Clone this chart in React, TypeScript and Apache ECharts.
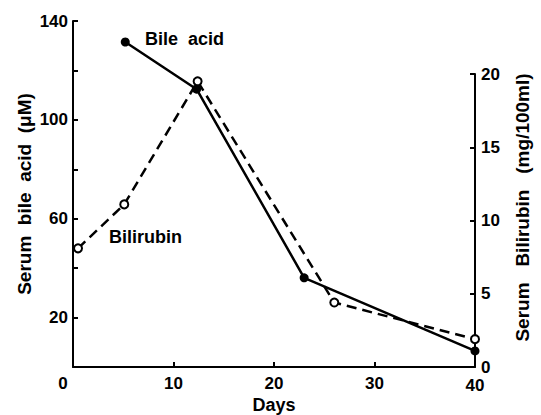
import React, { useEffect, useRef } from "react";
import * as echarts from "echarts";

const bileDays = [5.2, 12.3, 23, 40];
const bileValues = [131.5, 112.4, 36.1, 6.5];
const biliDays = [0.5, 5.1, 12.4, 26, 40];
const biliValues = [8.1, 11.1, 19.5, 4.4, 1.9];

const dayTicks = [0, 10, 20, 30, 40];
const bileAxisLabels = [20, 60, 100, 140];
const biliAxisLabels = [0, 5, 10, 15, 20];

const FONT = "Liberation Sans";

const mkLine = () => ({ show: true, onZero: false, lineStyle: { color: "#000", width: 2, type: "solid" as const } });
const mkTick = () => ({ show: true, inside: true, length: 5, lineStyle: { color: "#000", width: 2 } });

export default function App() {
  const ref = useRef<HTMLDivElement>(null);
  useEffect(() => {
    if (!ref.current) return;
    const chart = echarts.init(ref.current, undefined, { renderer: "svg" });
    const txt = () => ({ color: "#000", fontFamily: FONT, fontSize: 17, fontWeight: "bold" as const });
    chart.setOption({
      animation: false,
      backgroundColor: "#fff",
      grid: [
        { left: 73, right: 66, top: 21, bottom: 48, outerBoundsMode: "none", containLabel: false },
        { left: 73, right: 66, top: 74, bottom: 48, outerBoundsMode: "none", containLabel: false },
      ],
      xAxis: [
        {
          type: "value",
          gridIndex: 0,
          min: 0,
          max: 40,
          interval: 10,
          axisLine: mkLine(),
          axisTick: { ...mkTick(), customValues: dayTicks.slice(1, 4) },
          splitLine: { show: false },
          axisLabel: {
            ...txt(),
            margin: 8,
            customValues: dayTicks,
            formatter: (v: number) => (v === 0 ? "{z|0}" : v === 40 ? "{f|40}" : String(v)),
            rich: {
              z: { ...txt(), padding: [0, 20, 0, 0] },
              f: { ...txt(), padding: [2, 0, 0, 0] },
            },
          },
          name: "Days",
          nameLocation: "middle",
          nameGap: 29,
          nameMoveOverlap: false,
          nameTextStyle: { ...txt(), fontSize: 18 },
        },
        {
          type: "value",
          gridIndex: 1,
          min: 0,
          max: 40,
          show: false,
        },
      ],
      yAxis: [
        {
          type: "value",
          gridIndex: 0,
          min: 0,
          max: 140,
          interval: 20,
          axisLine: mkLine(),
          axisTick: mkTick(),
          splitLine: { show: false },
          axisLabel: {
            ...txt(),
            margin: 5,
            customValues: bileAxisLabels,
          },
          name: "Serum  bile  acid  (μM)",
          nameLocation: "middle",
          nameGap: 39,
          nameRotate: 90,
          nameMoveOverlap: false,
          nameTextStyle: { ...txt(), fontSize: 19 },
        },
        {
          type: "value",
          gridIndex: 1,
          position: "right",
          min: 0,
          max: 20,
          interval: 5,
          axisLine: mkLine(),
          axisTick: mkTick(),
          splitLine: { show: false },
          axisLabel: {
            ...txt(),
            margin: 6,
            customValues: biliAxisLabels,
          },
          name: "Serum   Bilirubin   (mg/100ml)",
          nameLocation: "middle",
          nameGap: 38,
          nameRotate: 90,
          nameMoveOverlap: false,
          nameTextStyle: { ...txt(), fontSize: 19, padding: [0, 0, 0, 26] },
        },
      ],
      graphic: [
        { type: "text", left: 145, top: 30, style: { text: "Bile  acid", ...txt(), fontSize: 18, fill: "#000" } },
        { type: "text", left: 109, top: 228, style: { text: "Bilirubin", ...txt(), fontSize: 18, fill: "#000" } },
      ],
      series: [
        {
          type: "line",
          name: "Bilirubin",
          xAxisIndex: 1,
          yAxisIndex: 1,
          data: biliDays.map((d, i) => [d, biliValues[i]]),
          symbol: "circle",
          symbolSize: 8,
          itemStyle: { color: "#fff", borderColor: "#000", borderWidth: 2 },
          lineStyle: { color: "#000", width: 2.5, type: [10, 6] },
          z: 3,
        },
        {
          type: "line",
          name: "Bile acid",
          xAxisIndex: 0,
          yAxisIndex: 0,
          data: bileDays.map((d, i) => [d, bileValues[i]]),
          symbol: "circle",
          symbolSize: 9,
          itemStyle: { color: "#000", borderColor: "#000", borderWidth: 0 },
          lineStyle: { color: "#000", width: 2.5 },
          z: 4,
        },
      ],
    });
    return () => chart.dispose();
  }, []);
  return (
    <div
      ref={ref}
      style={{ position: "fixed", left: 0, top: 0, width: 541, height: 415, background: "#fff" }}
    />
  );
}
